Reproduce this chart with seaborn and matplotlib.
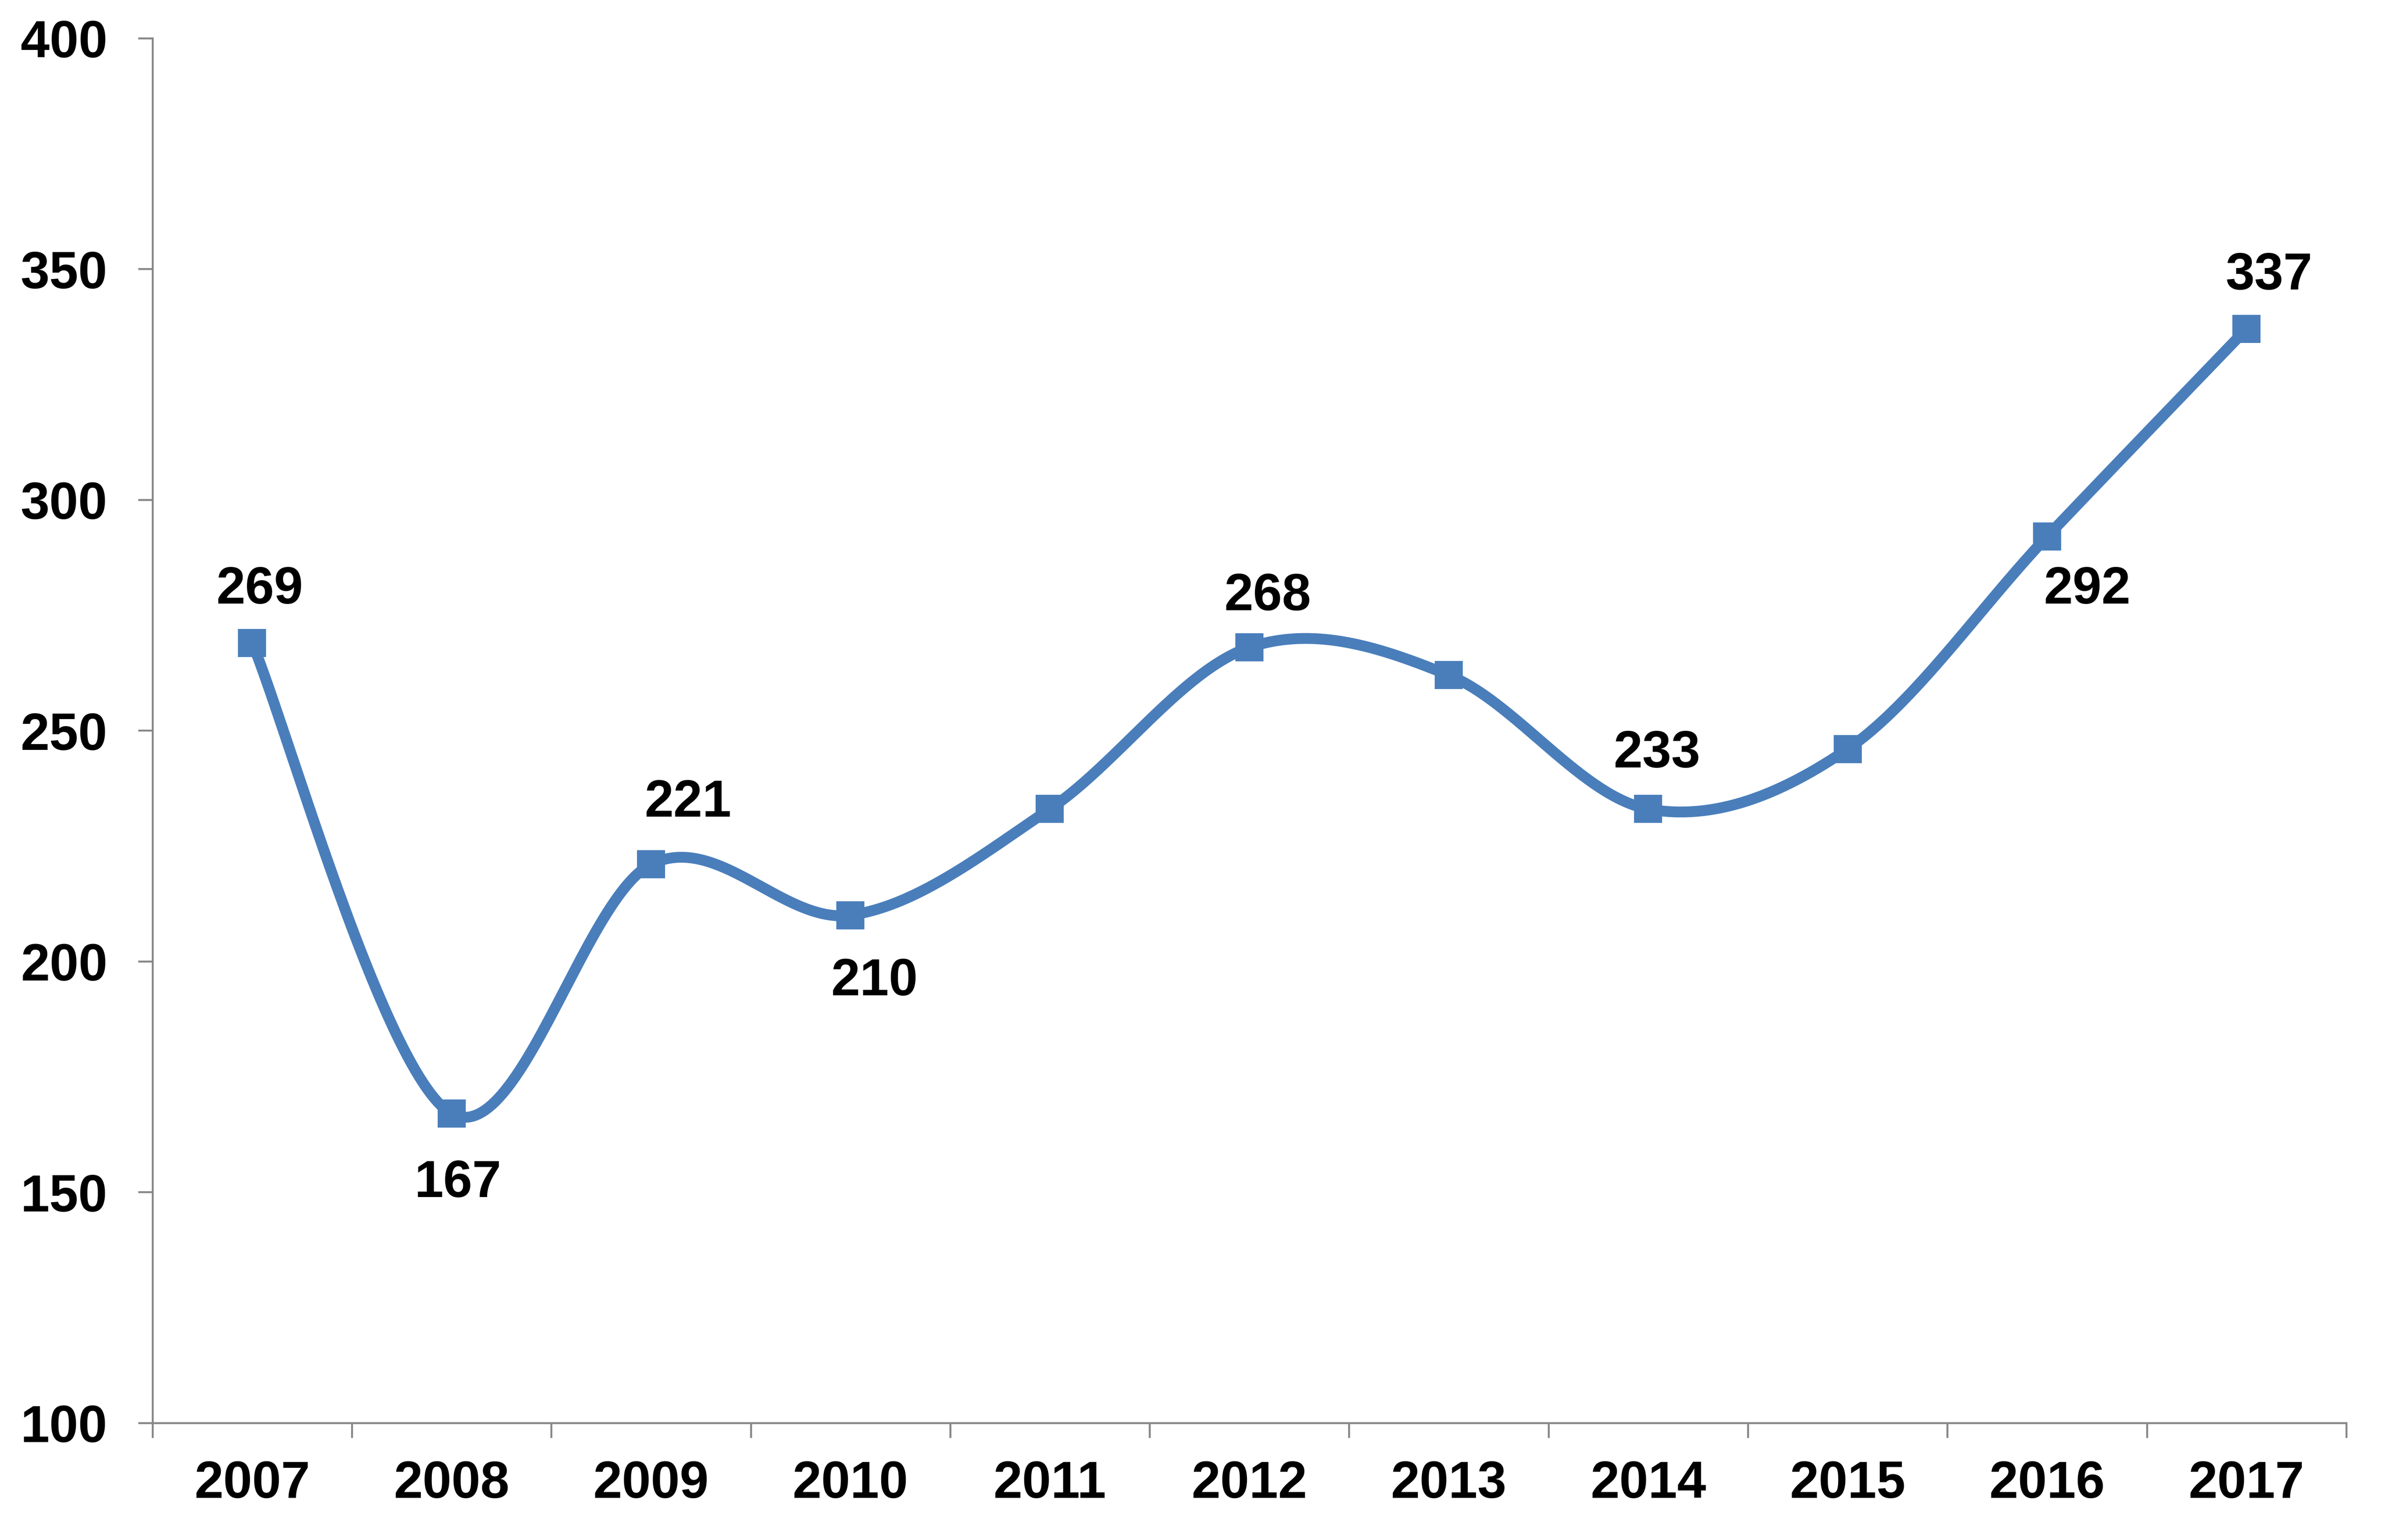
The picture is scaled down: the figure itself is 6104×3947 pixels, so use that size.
import numpy as np
import pandas as pd
import matplotlib
matplotlib.use("Agg")
import matplotlib.pyplot as plt
import seaborn as sns

years = ["2007", "2008", "2009", "2010", "2011", "2012", "2013", "2014", "2015", "2016", "2017"]
values = [269, 167, 221, 210, 233, 268, 262, 233, 246, 292, 337]
labeled = [True, True, True, True, False, True, False, True, False, True, True]
y_ticks = [100, 150, 200, 250, 300, 350, 400]

# label placement (style): vertical side and horizontal offset in points
label_dy = [49, -64, 57, -61, 0, 47, 0, 51, 0, -49, 49]
label_dx = [7, 6, 34, 22, 0, 17, 0, 8, 0, 37, 21]

sns.set_theme(style="white")
plt.rcParams['font.family'] = ['Liberation Sans', 'DejaVu Sans']

LINE = "#4A7EBB"
AXC = "#898989"

fig = plt.figure(figsize=(30.52, 19.74), dpi=200)
ax = fig.add_axes([0.064, 0.076, 0.9214, 0.899])

# smooth curve (Bezier through the data points, like Excel's smoothed line)
x = np.arange(len(values), dtype=float)
y = np.array(values, dtype=float)
xs, ys = [], []
n = len(x)
for i in range(n - 1):
    p0 = np.array([x[max(i - 1, 0)], y[max(i - 1, 0)]])
    p1 = np.array([x[i], y[i]])
    p2 = np.array([x[i + 1], y[i + 1]])
    p3 = np.array([x[min(i + 2, n - 1)], y[min(i + 2, n - 1)]])
    c1 = p1 + (p2 - p0) / 6.0
    c2 = p2 - (p3 - p1) / 6.0
    t = np.linspace(0, 1, 60)[:, None]
    pts = (1 - t) ** 3 * p1 + 3 * (1 - t) ** 2 * t * c1 + 3 * (1 - t) * t ** 2 * c2 + t ** 3 * p2
    xs.extend(pts[:, 0])
    ys.extend(pts[:, 1])
curve = pd.DataFrame({"x": xs, "y": ys})
sns.lineplot(data=curve, x="x", y="y", sort=False, ax=ax, color=LINE, linewidth=10,
             estimator=None, solid_capstyle="butt", solid_joinstyle="round")

df = pd.DataFrame({"x": x, "y": y})
sns.scatterplot(data=df, x="x", y="y", ax=ax, marker="s", s=660, color=LINE,
                edgecolor=LINE, linewidth=0, zorder=5)

for i, (v, lab) in enumerate(zip(values, labeled)):
    if lab:
        ax.annotate(str(v), (x[i], v), xytext=(label_dx[i], label_dy[i]),
                    textcoords="offset points", ha="center", va="center",
                    fontsize=48, fontweight="bold", color="black")

ax.set_xlim(-0.5, len(years) - 0.5)
ax.set_ylim(100, 400)
ax.set_yticks(y_ticks)
ax.set_yticklabels([str(t) for t in y_ticks], fontsize=48, fontweight="bold", color="black")
ax.set_xticks(x)
ax.set_xticklabels(years, fontsize=48, fontweight="bold", color="black")
ax.tick_params(axis="x", which="major", length=0, pad=34)
ax.set_xticks(np.arange(-0.5, len(years)), minor=True)
ax.tick_params(axis="x", which="minor", length=13.5, width=1.8, color=AXC, direction="out", bottom=True)
ax.tick_params(axis="y", which="major", length=13.5, width=1.8, color=AXC, direction="out", pad=28, left=True)
ax.set_xlabel("")
ax.set_ylabel("")

for s in ["top", "right"]:
    ax.spines[s].set_visible(False)
ax.spines["left"].set_color(AXC)
ax.spines["left"].set_linewidth(1.8)
ax.spines["bottom"].set_color(AXC)
ax.spines["bottom"].set_linewidth(1.8)
ax.grid(False)

fig.savefig("out.png", dpi=200, facecolor="white")
